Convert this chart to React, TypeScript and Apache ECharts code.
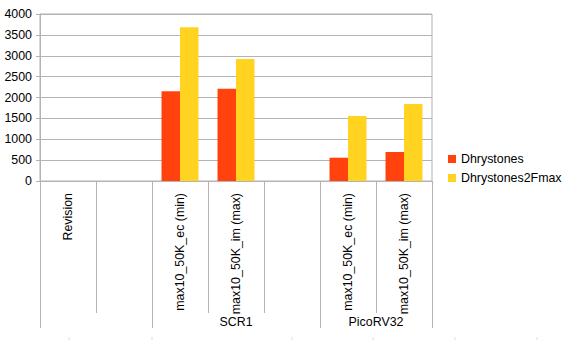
import React, { useEffect, useRef } from "react";
import * as echarts from "echarts";

const categories = [
  "Revision",
  "",
  "max10_50K_ec (min)",
  "max10_50K_im (max)",
  "",
  "max10_50K_ec (min)",
  "max10_50K_im (max)",
];
const groupBoundaryIndices = [0, 2, 5];
const groupLabels: { at: number; text: string }[] = [
  { at: 3.5, text: "SCR1" },
  { at: 6, text: "PicoRV32" },
];
const seriesNames = ["Dhrystones", "Dhrystones2Fmax"];
const dhrystones: (number | null)[] = [null, null, 2150, 2210, null, 558, 695];
const dhrystones2Fmax: (number | null)[] = [null, null, 3680, 2920, null, 1557, 1844];
const yTicks = { min: 0, max: 4000, interval: 500 };
const bottomMarksX = [69, 152, 292, 373, 455, 537];

const FONT = "Liberation Sans";
const GRID_COLOR = "#b3b3b3";

export default function App() {
  const ref = useRef<HTMLDivElement>(null);
  useEffect(() => {
    if (!ref.current) return;
    const chart = echarts.init(ref.current, undefined, { renderer: "svg" });
    chart.setOption({
      animation: false,
      textStyle: { fontFamily: FONT },
      grid: {
        left: 40,
        right: 139,
        top: 14,
        bottom: 159,
        show: true,
        borderColor: GRID_COLOR,
        borderWidth: 1,
        outerBoundsMode: "none",
      },
      legend: {
        orient: "vertical",
        left: 448,
        top: 152,
        padding: 0,
        itemGap: 5,
        itemWidth: 8,
        itemHeight: 8,
        icon: "rect",
        data: seriesNames,
        textStyle: { fontFamily: FONT, fontSize: 12.4, color: "#000", lineHeight: 14 },
      },
      xAxis: [
        {
          type: "category",
          data: categories,
          position: "bottom",
          axisLine: { onZero: false, lineStyle: { color: GRID_COLOR, width: 1 } },
          axisTick: { show: true, interval: 0, length: 132, lineStyle: { color: GRID_COLOR } },
          axisLabel: {
            interval: 0,
            rotate: 90,
            margin: 12,
            fontFamily: FONT,
            fontSize: 12.4,
            color: "#000",
          },
          splitLine: { show: false },
        },
        {
          type: "category",
          data: categories,
          position: "bottom",
          axisLine: { show: false, onZero: false },
          axisTick: {
            show: true,
            length: 147,
            interval: (i: number) => groupBoundaryIndices.includes(i),
            lineStyle: { color: GRID_COLOR },
          },
          axisLabel: { show: false },
          splitLine: { show: false },
        },
        {
          type: "value",
          min: 0,
          max: categories.length,
          interval: 0.5,
          position: "bottom",
          axisLine: { show: false, onZero: false },
          axisTick: { show: false },
          splitLine: { show: false },
          axisLabel: {
            margin: 135,
            fontFamily: FONT,
            fontSize: 12.4,
            color: "#000",
            formatter: (v: number) => {
              const g = groupLabels.find((l) => Math.abs(l.at - v) < 1e-6);
              return g ? g.text : "";
            },
          },
        },
      ],
      yAxis: {
        type: "value",
        min: yTicks.min,
        max: yTicks.max,
        interval: yTicks.interval,
        axisLine: { show: true, onZero: false, lineStyle: { color: GRID_COLOR } },
        axisTick: { show: true, length: 4, lineStyle: { color: GRID_COLOR } },
        splitLine: { show: true, lineStyle: { color: GRID_COLOR } },
        axisLabel: {
          margin: 8,
          fontFamily: FONT,
          fontSize: 12.4,
          color: "#000",
          formatter: (v: number) => String(v),
        },
      },
      series: [
        {
          name: seriesNames[0],
          type: "bar",
          xAxisIndex: 0,
          data: dhrystones,
          barGap: "0%",
          barCategoryGap: "34%",
          itemStyle: { color: "#ff420e" },
        },
        {
          name: seriesNames[1],
          type: "bar",
          xAxisIndex: 0,
          data: dhrystones2Fmax,
          barGap: "0%",
          barCategoryGap: "34%",
          itemStyle: { color: "#ffd320" },
        },
      ],
      graphic: bottomMarksX.map((x) => ({
        type: "line",
        shape: { x1: x, y1: 337, x2: x, y2: 340 },
        style: { stroke: "#dddddd", lineWidth: 1 },
        silent: true,
      })),
    });
    return () => chart.dispose();
  }, []);
  return (
    <div
      ref={ref}
      style={{ position: "fixed", left: 0, top: 0, width: 571, height: 340, background: "#fff" }}
    />
  );
}
